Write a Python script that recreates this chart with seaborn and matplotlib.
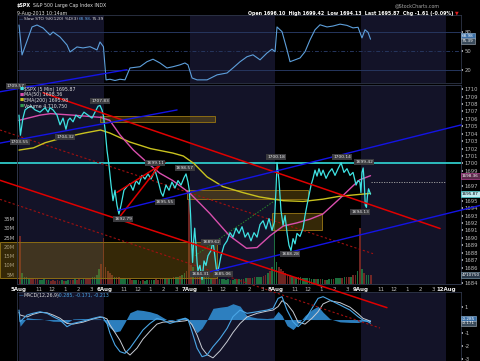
import numpy as np
import pandas as pd
import matplotlib
matplotlib.use("Agg")
import matplotlib.pyplot as plt
from matplotlib.patches import Rectangle
import seaborn as sns

# ---------------- data ----------------
# time axis = trading hours since 5-Aug-2013 09:30 (one session = 6.5 h)
day_labels = ["5Aug", "6Aug", "7Aug", "8Aug", "9Aug", "12Aug"]
hour_labels = ["11", "12", "1", "2", "3"]
hour_offsets = [1.5, 2.5, 3.5, 4.5, 5.5]

price_t = [0.00, 0.11, 0.30, 0.46, 0.68, 0.91, 1.22, 1.60, 1.98, 2.21, 2.36, 2.59, 2.89, 3.12, 3.35, 3.57,
           3.73, 3.88, 4.11, 4.33, 4.64, 4.94, 5.25, 5.55, 5.78, 6.01, 6.16, 6.31, 6.42,
           6.55, 6.69, 6.84, 7.00, 7.15, 7.30, 7.45, 7.60, 7.76, 7.98, 8.21, 8.44, 8.67, 8.90, 9.13, 9.35,
           9.58, 9.81, 10.04, 10.34, 10.57, 10.80, 10.95, 11.18, 11.41, 11.63, 11.86, 12.09, 12.32, 12.55,
           12.70, 12.85, 12.95,
           13.05, 13.12, 13.20, 13.28, 13.36, 13.46, 13.54, 13.61, 13.76, 13.92, 14.07, 14.22, 14.37, 14.60,
           14.75, 14.90, 15.06, 15.21, 15.36, 15.59, 15.82, 16.05, 16.27, 16.50, 16.73, 16.96, 17.19, 17.41,
           17.64, 17.87, 18.10, 18.33, 18.56, 18.78, 19.01, 19.24, 19.42,
           19.54, 19.62, 19.77, 19.92, 20.08, 20.23, 20.38, 20.53, 20.68, 20.84, 20.99, 21.14, 21.37, 21.60,
           21.75, 21.90, 22.05, 22.21, 22.36, 22.51, 22.66, 22.81, 22.97, 23.12, 23.35, 23.57, 23.80, 24.03,
           24.26, 24.49, 24.71, 24.94, 25.17, 25.40, 25.63, 25.78, 25.92,
           26.00, 26.08, 26.17, 26.25, 26.33, 26.42, 26.50, 26.58, 26.73]
price = [1706.5, 1703.8, 1706.1, 1707.2, 1707.5, 1707.7, 1707.2, 1706.9, 1707.5, 1706.9, 1707.5, 1707.2, 1706.5, 1705.2, 1706.1, 1704.6,
         1705.8, 1706.1, 1705.6, 1706.5, 1706.1, 1706.9, 1706.5, 1706.1, 1706.9, 1707.7, 1707.8, 1707.2, 1706.4,
         1704.5, 1701.8, 1699.8, 1697.1, 1695.0, 1696.4, 1694.4, 1693.2, 1694.4, 1696.4, 1696.9, 1697.3, 1696.4, 1697.7, 1697.2, 1698.4,
         1697.9, 1698.6, 1697.9, 1699.1, 1697.7, 1696.1, 1695.6, 1697.1, 1696.4, 1697.5, 1696.7, 1697.7, 1697.1, 1698.1,
         1698.6, 1697.5, 1696.4,
         1693.0, 1689.6, 1686.7, 1689.6, 1691.3, 1689.0, 1686.7, 1685.6, 1686.3, 1684.4, 1686.9, 1686.3, 1687.6, 1688.3,
         1689.6, 1687.4, 1685.1, 1686.2, 1687.6, 1689.0, 1689.6, 1690.7, 1690.1, 1691.3, 1690.6, 1691.5, 1690.1, 1690.7,
         1689.6, 1690.7, 1690.1, 1691.8, 1692.3, 1691.2, 1692.6, 1691.0, 1692.1,
         1696.4, 1700.1, 1697.7, 1693.7, 1691.7, 1693.0, 1690.7, 1689.0, 1688.3, 1689.9, 1689.2, 1690.6, 1690.2, 1691.3,
         1693.0, 1694.4, 1695.7, 1697.1, 1698.0, 1699.1, 1698.3, 1699.3, 1698.4, 1699.1, 1698.0, 1698.8, 1699.3, 1698.4,
         1699.3, 1700.1, 1698.8, 1699.3, 1698.4, 1698.8, 1697.1, 1697.7, 1697.5,
         1696.1, 1698.8, 1699.4, 1697.5, 1694.4, 1694.1, 1695.7, 1696.6, 1695.87]

ma50_t = [0.0, 1.6, 2.4, 4.1, 6.2, 6.9, 7.7, 8.7, 9.7, 10.7, 11.7, 13.0, 14.5, 16.0, 17.3, 18.1, 19.1, 20.1,
          21.1, 22.1, 23.1, 24.4, 25.4, 25.9, 26.73]
ma50 = [1705.8, 1706.5, 1706.7, 1706.5, 1706.2, 1705.8, 1703.8, 1701.8, 1700.2, 1698.7, 1697.7, 1696.0, 1693.3,
        1690.3, 1688.6, 1688.7, 1690.3, 1691.6, 1692.0, 1692.5, 1693.2, 1695.3, 1697.0, 1697.8, 1698.36]

ema200_t = [0.0, 1.1, 2.0, 3.65, 5.0, 6.2, 6.9, 8.4, 10.0, 11.7, 12.5, 13.3, 14.3, 15.5, 17.0, 18.3, 20.1, 21.6,
            23.1, 24.4, 26.73]
ema200 = [1701.8, 1702.1, 1702.8, 1703.6, 1704.1, 1704.5, 1704.1, 1702.9, 1702.0, 1701.4, 1701.0, 1700.0, 1698.2,
          1696.9, 1696.1, 1695.5, 1695.0, 1694.9, 1695.2, 1695.6, 1695.98]

sto_t = [0.0, 0.23, 0.99, 1.37, 1.83, 2.36, 2.59, 3.12, 3.65, 3.88, 4.41, 4.87, 5.40, 5.93, 6.16, 6.42,
         6.62, 6.92, 7.30, 7.68, 8.06, 8.44, 9.20, 9.73, 10.19, 10.72, 11.25, 11.71, 12.24, 12.62, 12.85,
         13.16, 13.54, 14.30, 15.06, 15.82, 16.27, 16.81, 17.34, 17.79, 18.33, 18.86, 19.24, 19.47,
         19.62, 20.00, 20.38, 20.61, 20.99, 21.37, 21.75, 22.13, 22.51, 22.89, 23.42, 23.88, 24.41, 24.94,
         25.40, 25.78, 26.08, 26.31, 26.54, 26.73]
sto_k = [91.6, 43.8, 88.5, 91.6, 86.8, 75.7, 80.5, 72.5, 59.7, 48.6, 56.6, 55.0, 57.0, 51.8, 64.5, 57.0,
         4.0, 5.0, 3.0, 5.0, 4.0, 23.0, 25.0, 33.0, 37.0, 31.0, 23.0, 25.0, 28.0, 31.0, 28.0,
         7.0, 4.0, 4.0, 12.0, 15.0, 23.0, 33.0, 41.0, 44.0, 36.0, 47.0, 53.0, 49.0,
         88.5, 81.0, 52.0, 33.0, 36.0, 39.0, 49.0, 68.0, 84.0, 92.0, 88.5, 90.0, 93.0, 91.0,
         87.0, 88.0, 71.0, 84.0, 80.0, 68.98]

macd_t = [0.0, 0.08, 0.61, 1.06, 1.60, 2.13, 2.59, 3.12, 3.65, 4.11, 4.87, 5.63, 6.16, 6.39,
          6.69, 6.92, 7.30, 7.68, 8.06, 8.44, 8.97, 9.43, 9.96, 10.49, 10.95, 11.48, 12.02, 12.62, 12.85,
          13.16, 13.54, 13.92, 14.30, 14.75, 15.29, 15.82, 16.27, 16.81, 17.34, 18.10, 18.86, 19.32,
          19.70, 20.00, 20.38, 20.84, 21.22, 21.75, 22.28, 22.74, 23.12, 23.65, 24.41, 25.17, 25.78,
          26.16, 26.54, 26.73]
macd = [0.73, -0.17, 0.35, 0.48, 0.60, 0.48, 0.22, -0.04, -0.55, -0.30, -0.12, 0.09, 0.22, 0.15,
        -0.30, -1.06, -1.96, -2.47, -2.60, -2.20, -1.45, -0.80, -0.30, 0.09, -0.04, -0.30, -0.12, 0.09, 0.0,
        -0.94, -2.20, -2.86, -2.73, -2.09, -1.45, -0.68, 0.22, 0.73, 0.48, 0.60, 0.73, 0.86,
        1.63, 1.76, 0.73, -0.17, -0.55, -0.04, 0.86, 1.63, 1.76, 1.50, 1.12, 0.73, 0.22,
        -0.04, -0.17, -0.285]
macd_signal = [0.55, 0.35, 0.20, 0.40, 0.55, 0.52, 0.35, 0.10, -0.30, -0.35, -0.20, 0.05, 0.17, 0.18,
               0.05, -0.42, -1.00, -1.60, -2.40, -2.73, -2.20, -1.50, -0.90, -0.35, -0.20, -0.17, -0.17, -0.10, -0.05,
               -0.40, -1.19, -2.20, -2.70, -2.95, -2.40, -1.70, -1.00, -0.30, 0.20, 0.48, 0.65, 0.73,
               1.00, 1.45, 1.20, 0.60, -0.20, -0.35, 0.10, 0.60, 1.20, 1.45, 1.30, 0.95, 0.45,
               0.09, -0.05, -0.171]

# volume in millions, 10-minute bars per session
vol_aug5 = [26, 6, 4, 4, 3, 3, 3, 2.5, 3, 2, 2, 2.5, 2, 2, 1.5, 2, 1.5, 2, 1.5, 2, 1.5, 1.5, 2, 2, 2, 2.5,
            2, 2.5, 2, 3, 2.5, 3, 3, 3.5, 4, 5, 8, 11, 25]
vol_aug6 = [9, 7, 6, 5, 4, 4, 3.5, 3, 3, 3, 2.5, 2.5, 2, 2, 2, 2, 1.5, 2, 1.5, 2, 2, 2, 2, 2.5, 2, 2.5,
            2.5, 3, 3, 3, 3, 3.5, 3.5, 4, 4.5, 5, 6, 7, 45]
vol_aug7 = [10, 9, 7, 6, 5, 5, 4, 4, 3.5, 3, 3, 3, 3, 2.5, 2.5, 2.5, 2, 2.5, 2, 2, 2.5, 2, 2.5, 2.5, 2.5, 3,
            3, 3, 3, 3.5, 3.5, 4, 4, 4.5, 5, 6, 7, 9, 36]
vol_aug8 = [12, 9, 8, 7, 6, 5, 5, 4.5, 4, 4, 3.5, 3.5, 3, 3, 3, 3, 2.5, 2.5, 2.5, 2.5, 2.5, 2.5, 2, 2, 2.5,
            2.5, 2.5, 3, 3, 3, 3, 3.5, 3.5, 4, 4, 5, 5, 7, 30]
vol_aug9 = [8, 6, 5, 5, 4.71075]
vol_ticks = [5, 10, 15, 20, 25, 30, 35]

# marked highs / lows
hl_t = [-0.2, 0.11, 3.57, 6.16, 7.60, 10.34, 10.95, 12.70, 13.92, 14.75, 15.06, 19.62, 20.68, 24.49, 26.17, 26.42]
hl_v = [1709.57, 1703.55, 1704.32, 1707.83, 1692.79, 1699.11, 1695.55, 1698.57, 1684.31, 1689.62, 1685.06,
        1700.18, 1688.28, 1700.14, 1699.42, 1694.13]

# drawn annotations (time, price)
red_lines = [((1.83, 1709.5), (32.02, 1691.26)), ((-1.445, 1697.74), (27.98, 1680.62)),
             ((7.45, 1696.12), (11.10, 1700.18)), ((7.68, 1692.88), (10.95, 1700.31))]
red_dotted = [((-1.445, 1704.5), (26.92, 1687.88)), ((-1.445, 1695.18), (27.45, 1677.88))]
blue_lines = [((-1.445, 1709.64), (8.21, 1712.61)), ((-1.445, 1702.74), (12.02, 1707.2)),
              ((7.53, 1693.69), (33.61, 1705.18)), ((13.61, 1685.04), (35.06, 1694.36))]
green_dotted = [((13.38, 1687.6), (19.70, 1695.31))]
level_line = 1700.0
prev_close = 1697.48
zones = [(6.16, 14.9, 1705.6, 1706.4), (12.78, 21.98, 1695.2, 1696.4), (19.24, 23.04, 1691.1, 1693.3),
         (-1.445, 15.06, 1684.65, 1689.5)]

# ---------------- layout / style ----------------
# label box centres in figure pixels (from top-left), one per marked high/low
hl_box_px = [(16, 86), (20, 142), (65, 137), (100, 101), (123, 219), (155, 163), (165, 202), (185, 168),
             (200, 274), (211, 242), (223, 274), (276, 157), (290, 254), (342, 157), (364, 162), (360, 212)]
# right-axis price ticks hidden behind the value boxes
hidden_price_ticks = [1698, 1696, 1685]

sns.set_theme(style="dark", rc={"axes.facecolor": "black", "figure.facecolor": "black",
                                "axes.edgecolor": "#2e3548", "text.color": "#dddddd",
                                "xtick.color": "#cccccc", "ytick.color": "#cccccc"})
plt.rcParams["font.family"] = ["DejaVu Sans"]

W, H = 480, 361
fig = plt.figure(figsize=(W / 100, H / 100), dpi=100)
fig.patch.set_facecolor("black")


def fx(x):
    return x / W


def fy(y):
    return 1 - y / H


def rect(l, t, r, b):
    return [fx(l), fy(b), fx(r) - fx(l), fy(t) - fy(b)]


NAVY = "#131328"
CYAN = "#3fe3e3"
PINK = "#d94fae"
YELLOW = "#c9c21f"
XL = (-0.152, 33.61)

ax_sto = fig.add_axes(rect(17, 15, 461, 83))
ax_vol = fig.add_axes(rect(17, 85, 461, 284))
ax_main = fig.add_axes(rect(17, 85, 461, 284))
ax_macd = fig.add_axes(rect(17, 292, 461, 361))
ax_vol.set_zorder(1)
ax_sto.set_zorder(2)
ax_macd.set_zorder(2)
ax_main.set_zorder(3)

for ax in (ax_sto, ax_vol, ax_main, ax_macd):
    ax.set_xlim(*XL)
    ax.set_facecolor("black")
    for s in ax.spines.values():
        s.set_color("#2e3548")
        s.set_linewidth(0.6)
ax_main.patch.set_visible(False)

for ax in (ax_sto, ax_vol, ax_macd):
    for d in range(len(day_labels)):
        if d % 2 == 0:
            ax.axvspan(6.5 * d, 6.5 * d + 6.5, color=NAVY, lw=0, zorder=0)

# ---- STO panel ----
sto_df = pd.DataFrame({"t": sto_t, "k": sto_k})
ax_sto.set_ylim(-1, 107.6)
for lv, ls in ((20, "-"), (80, "-"), (50, (0, (4, 2, 1, 2)))):
    ax_sto.axhline(lv, color="#26365e", lw=0.7, ls=ls, zorder=1)
sns.lineplot(data=sto_df, x="t", y="k", ax=ax_sto, color="#5d9fdb", lw=0.8, zorder=3)
ax_sto.set_xticks([])
ax_sto.yaxis.tick_right()
ax_sto.set_yticks([20, 50, 80])
ax_sto.tick_params(axis="y", labelsize=3.8, length=1.5, pad=1, colors="#bbbbbb")
ax_sto.set_xlabel("")
ax_sto.set_ylabel("")

# ---- volume (under the price panel) ----
bar_h = 1 / 6
vol_days = [vol_aug5, vol_aug6, vol_aug7, vol_aug8, vol_aug9]
vt, vv, vc = [], [], []
for d, vols in enumerate(vol_days):
    for i, v in enumerate(vols):
        t0 = 6.5 * d + i * bar_h
        up = np.interp(t0 + bar_h, price_t, price) >= np.interp(t0, price_t, price)
        vt.append(t0 + bar_h / 2)
        vv.append(v)
        vc.append("#1f7a43" if up else "#7c2a26")
ax_vol.bar(vt, vv, width=bar_h * 0.75, color=vc, alpha=0.9, lw=0, zorder=2)
ax_vol.set_ylim(0, 107)
ax_vol.set_xticks([])
ax_vol.set_yticks(vol_ticks)
ax_vol.set_yticklabels([f"{v}M" for v in vol_ticks])
ax_vol.tick_params(axis="y", labelsize=3.8, length=0, pad=1.5, colors="#bbbbbb")

# ---- price panel ----
ax_main.set_ylim(1683.8, 1710.55)
for (x0, x1, y0, y1) in zones:
    ax_main.add_patch(Rectangle((x0, y0), x1 - x0, y1 - y0, fc=(0.55, 0.42, 0.08, 0.38),
                                ec="#8a6c14", lw=0.7, zorder=1, clip_on=False))
ax_main.plot([XL[0] - 1.29, XL[1]], [level_line] * 2, color="#2fc9c9", lw=1.3, zorder=2, clip_on=False)
ax_main.plot([26.73, 32.5], [prev_close] * 2, color="#aaaaaa", lw=0.6, ls=(0, (1.5, 1.5)), zorder=2)
for (a, b) in red_dotted:
    ax_main.plot([a[0], b[0]], [a[1], b[1]], color="#a01010", lw=0.8, ls=(0, (2, 2)), zorder=2, clip_on=False)
for (a, b) in green_dotted:
    ax_main.plot([a[0], b[0]], [a[1], b[1]], color="#2a8a2a", lw=0.7, ls=(0, (1.5, 1.5)), zorder=2)

ma_df = pd.DataFrame({"t": ma50_t, "v": ma50})
ema_df = pd.DataFrame({"t": ema200_t, "v": ema200})
px_df = pd.DataFrame({"t": price_t, "v": price})
sns.lineplot(data=ema_df, x="t", y="v", ax=ax_main, color=YELLOW, lw=1.0, zorder=3)
sns.lineplot(data=ma_df, x="t", y="v", ax=ax_main, color=PINK, lw=1.0, zorder=3)
sns.lineplot(data=px_df, x="t", y="v", ax=ax_main, color=CYAN, lw=0.9, zorder=4)

for (a, b) in red_lines:
    ax_main.plot([a[0], b[0]], [a[1], b[1]], color="#e00000", lw=1.1, zorder=5, clip_on=False)
for (a, b) in blue_lines:
    ax_main.plot([a[0], b[0]], [a[1], b[1]], color="#1414e6", lw=1.0, zorder=5, clip_on=False)

for t, v, (bx, by) in zip(hl_t, hl_v, hl_box_px):
    ax_main.annotate(f"{v:.2f}", (t, v), xytext=(bx, H - by), textcoords="figure pixels",
                     ha="center", va="center", fontsize=3.2, color="#e8e8e8", zorder=8,
                     annotation_clip=False,
                     bbox=dict(boxstyle="square,pad=0.2", fc="#3a3a3e", ec="none"))

ax_main.yaxis.tick_right()
pticks = list(range(1684, 1711))
ax_main.set_yticks(pticks)
ax_main.set_yticklabels(["" if p in hidden_price_ticks else str(p) for p in pticks])
ax_main.tick_params(axis="y", labelsize=3.8, length=1.5, pad=1, colors="#bbbbbb")
xt, xl = [], []
for d, lab in enumerate(day_labels):
    xt.append(6.5 * d)
    xl.append(lab)
    for off, hl in zip(hour_offsets, hour_labels):
        if 6.5 * d + off < XL[1]:
            xt.append(6.5 * d + off)
            xl.append(hl)
ax_main.set_xticks(xt)
ax_main.set_xticklabels(xl)
ax_main.tick_params(axis="x", labelsize=4, length=0, pad=2.2, colors="#bbbbbb")
for lbl in ax_main.get_xticklabels():
    if "Aug" in lbl.get_text():
        lbl.set_fontweight("bold")
        lbl.set_color("#eeeeee")
ax_main.set_xlabel("")
ax_main.set_ylabel("")

# ---- MACD panel ----
mt = np.array(macd_t)
m = np.array(macd)
s = np.array(macd_signal)
ax_macd.set_ylim(-3.19, 2.12)
ax_macd.fill_between(mt, m - s, 0, color="#2f86c8", alpha=0.95, lw=0, zorder=2)
macd_df = pd.DataFrame({"t": macd_t, "macd": macd, "signal": macd_signal})
sns.lineplot(data=macd_df, x="t", y="signal", ax=ax_macd, color="#c8ccd4", lw=0.7, zorder=3)
sns.lineplot(data=macd_df, x="t", y="macd", ax=ax_macd, color="#4aa6e6", lw=0.8, zorder=4)
ax_macd.set_xticks([])
ax_macd.yaxis.tick_right()
ax_macd.set_yticks([1, 0, -1, -2, -3])
ax_macd.set_yticklabels(["1", "", "-1", "-2", "-3"])
ax_macd.tick_params(axis="y", labelsize=3.8, length=1.5, pad=1, colors="#bbbbbb")
ax_macd.set_xlabel("")
ax_macd.set_ylabel("")

# ---- texts ----
T = dict(fontsize=3.4, zorder=10)
fig.text(fx(17), fy(6), "\\$SPX", fontweight="bold", color="white", va="center", **T)
fig.text(fx(33), fy(6), "S&P 500 Large Cap Index INDX", color="#dddddd", va="center", **T)
fig.text(fx(17), fy(13), "9-Aug-2013 10:14am", color="#dddddd", va="center", **T)
fig.text(fx(440), fy(6), "@StockCharts.com", color="#aaaaaa", va="center", ha="right", **T)
fig.text(fx(453), fy(13), "Open 1696.10  High 1699.42  Low 1694.13  Last 1695.87  Chg -1.61 (-0.09%)",
         color="white", va="center", ha="right", fontweight="bold", **T)
fig.text(fx(455), fy(13), "\u25bc", color="#e02020", va="center", ha="left", fontsize=3.4, zorder=10)

S = dict(fontsize=3.1, zorder=10, va="center")
fig.text(fx(19), fy(19), "\u2014", color="#5d9fdb", **S)
fig.text(fx(24), fy(19), "Slow STO %K(120) %D(3)", color="#dddddd", **S)
fig.text(fx(79), fy(19), "68.98,", color="#5d9fdb", **S)
fig.text(fx(92), fy(19), "75.39", color="#dddddd", **S)

leg = [("\\$SPX (5 Min) 1695.87", CYAN), ("MA(50) 1698.36", PINK), ("EMA(200) 1695.98", YELLOW),
       ("Volume 4,710,750", "#2f9a4f")]
for i, (txt, c) in enumerate(leg):
    yy = 89 + i * 5.6
    fig.text(fx(20), fy(yy), "\u25a0", color=c, va="center", fontsize=3.2, zorder=10)
    fig.text(fx(24.5), fy(yy), txt, color="#dddddd", va="center", **T)

fig.text(fx(19), fy(295.5), "\u2014", color="#4aa6e6", va="center", **T)
fig.text(fx(24), fy(295.5), "MACD(12,26,9)", color="#dddddd", va="center", **T)
fig.text(fx(57), fy(295.5), "-0.285, -0.171, -0.213", color="#4aa6e6", va="center", **T)

B = dict(fontsize=3.0, va="center", ha="left", zorder=11)
fig.text(fx(462), fy(176), "1698.36", color="white",
         bbox=dict(boxstyle="square,pad=0.2", fc="#5a2a4a", ec=PINK, lw=0.4), **B)
fig.text(fx(462), fy(194), "1695.87", color="black",
         bbox=dict(boxstyle="square,pad=0.2", fc="#bfe9ef", ec=CYAN, lw=0.4), **B)
fig.text(fx(462), fy(275), "4710750", color="white",
         bbox=dict(boxstyle="square,pad=0.2", fc="#2a3a4a", ec="#8fb0c0", lw=0.4), **B)
fig.text(fx(462), fy(36), "68.98", color="white",
         bbox=dict(boxstyle="square,pad=0.2", fc="#3b6fa6", ec="#9cc4e8", lw=0.4), **B)
fig.text(fx(462), fy(41), "75.39", color="white",
         bbox=dict(boxstyle="square,pad=0.2", fc="#394a5a", ec="#aab4bf", lw=0.4), **B)
fig.text(fx(462), fy(318.5), "-0.285", color="white",
         bbox=dict(boxstyle="square,pad=0.2", fc="#3b6fa6", ec="#9cc4e8", lw=0.4), **B)
fig.text(fx(462), fy(323.5), "-0.171", color="white",
         bbox=dict(boxstyle="square,pad=0.2", fc="#394a5a", ec="#aab4bf", lw=0.4), **B)

fig.savefig("out.png", dpi=100, facecolor="black")
